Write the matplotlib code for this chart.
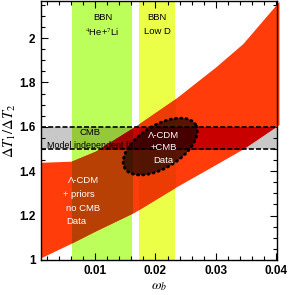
import numpy as np
import matplotlib
matplotlib.use("Agg")
import matplotlib.pyplot as plt
from matplotlib.patches import Rectangle, Polygon

plt.rcParams['font.family'] = ['Liberation Sans', 'DejaVu Sans']
plt.rcParams['mathtext.fontset'] = 'stix'

# red band: Lambda-CDM + priors, no CMB data (edges)
omega = [0.001, 0.006, 0.010, 0.0165, 0.0233, 0.030, 0.0345, 0.0405]
ratio_lo = [1.01, 1.075, 1.13, 1.215, 1.327, 1.43, 1.50, 1.61]
ratio_hi = [1.44, 1.445, 1.49, 1.60, 1.727, 1.87, 1.975, 2.165]

# BBN bands in omega_b
bbn_heli = [0.0061, 0.0161]
bbn_lowd = [0.0172, 0.0233]
# CMB model independent fit on the ratio
cmb_fit = [1.5, 1.6]

# Lambda-CDM + CMB data ellipse: centre, axis vectors (data units)
ell_center = [0.0208, 1.511]
ell_major = [0.00587, 0.0991]
ell_minor = [-0.00189, 0.0817]

c_green = '#bdff5a'
c_yellow = '#ecff48'
c_gray = '#c8c8c8'
c_red = '#ff3c0a'
c_red_green = '#b94005'
c_red_yellow = '#ec3c04'
c_red_gray = '#c80000'
c_red_gray_green = '#a00600'
c_red_gray_yellow = '#bb0000'
c_gray_green = '#96c83c'
c_gray_yellow = '#bac83a'

fig = plt.figure(figsize=(2.89, 2.95), dpi=100)
ax = fig.add_axes([0.142, 0.119, 0.817, 0.876])
ax.set_xlim(0.001, 0.0402)
ax.set_ylim(1.0, 2.165)

ax.axvspan(bbn_heli[0], bbn_heli[1], color=c_green, lw=0, zorder=1)
ax.axvspan(bbn_lowd[0], bbn_lowd[1], color=c_yellow, lw=0, zorder=1)
ax.axhspan(cmb_fit[0], cmb_fit[1], color=c_gray, lw=0, zorder=1)
ax.fill_between(bbn_heli, cmb_fit[0], cmb_fit[1], color=c_gray_green, lw=0, zorder=1.1)
ax.fill_between(bbn_lowd, cmb_fit[0], cmb_fit[1], color=c_gray_yellow, lw=0, zorder=1.1)


def red_band(color, xr=None, yr=None, z=2):
    p = ax.fill_between(omega, ratio_lo, ratio_hi, color=color, lw=0, zorder=z)
    if xr is None:
        xr = [0.0, 0.05]
    if yr is None:
        yr = [0.5, 2.5]
    clip = Rectangle((xr[0], yr[0]), xr[1] - xr[0], yr[1] - yr[0],
                     transform=ax.transData)
    p.set_clip_path(clip)


red_band(c_red)
red_band(c_red_green, xr=bbn_heli, z=2.1)
red_band(c_red_yellow, xr=bbn_lowd, z=2.1)
red_band(c_red_gray, yr=cmb_fit, z=2.2)
red_band(c_red_gray_green, xr=bbn_heli, yr=cmb_fit, z=2.3)
red_band(c_red_gray_yellow, xr=bbn_lowd, yr=cmb_fit, z=2.3)

for yv in cmb_fit:
    ax.axhline(yv, color='black', lw=1.2, ls=(0, (3, 1.3)), zorder=3)

t = np.linspace(0, 2 * np.pi, 200)
ex = ell_center[0] + np.cos(t) * ell_major[0] + np.sin(t) * ell_minor[0]
ey = ell_center[1] + np.cos(t) * ell_major[1] + np.sin(t) * ell_minor[1]
ax.add_patch(Polygon(np.column_stack([ex, ey]), closed=True, facecolor='black',
                     alpha=0.65, lw=0, zorder=4))
ax.plot(ex, ey, color='black', lw=2.0, ls=(0, (0.4, 1.5)),
        dash_capstyle='round', zorder=4.5)

fs = 6.8
ax.text(0.0112, 2.095, 'BBN', ha='center', va='center', fontsize=fs, zorder=5)
ax.text(0.0112, 2.027, r'$^4$He+$^7$Li', ha='center', va='center', fontsize=fs, zorder=5)
ax.text(0.0203, 2.095, 'BBN', ha='center', va='center', fontsize=fs, zorder=5)
ax.text(0.0203, 2.030, 'Low D', ha='center', va='center', fontsize=fs, zorder=5)
ax.text(0.0092, 1.573, 'CMB', ha='center', va='center', fontsize=fs, zorder=5)
ax.text(0.0091, 1.515, 'Model independent fit', ha='center', va='center',
        fontsize=6.4, zorder=5)
ax.text(0.0213, 1.563, 'Λ-CDM', ha='center', va='center', fontsize=fs,
        color='white', zorder=5)
ax.text(0.0213, 1.508, '+CMB', ha='center', va='center', fontsize=fs,
        color='white', zorder=5)
ax.text(0.0213, 1.450, 'Data', ha='center', va='center', fontsize=fs,
        color='white', zorder=5)
ax.text(0.0054, 1.360, 'Λ-CDM', ha='left', va='center', fontsize=fs,
        color='white', zorder=5)
ax.text(0.0046, 1.293, '+ priors', ha='left', va='center', fontsize=fs,
        color='white', zorder=5)
ax.text(0.0052, 1.233, 'no CMB', ha='left', va='center', fontsize=fs,
        color='white', zorder=5)
ax.text(0.0052, 1.171, 'Data', ha='left', va='center', fontsize=fs,
        color='white', zorder=5)

ax.set_xticks([0.01, 0.02, 0.03, 0.04])
ax.set_xticklabels(['0.01', '0.02', '0.03', '0.04'])
ax.set_xticks(np.arange(0.002, 0.0401, 0.002), minor=True)
ax.set_yticks([1.0, 1.2, 1.4, 1.6, 1.8, 2.0])
ax.set_yticklabels(['1', '1.2', '1.4', '1.6', '1.8', '2'])
ax.set_yticks(np.arange(1.0, 2.16, 0.05), minor=True)
ax.tick_params(which='both', direction='in', top=True, right=True,
               labelsize=8.5, width=0.8, pad=4)
ax.tick_params(which='major', length=5)
ax.tick_params(which='minor', length=3)
for lab in ax.get_xticklabels() + ax.get_yticklabels():
    lab.set_fontweight('bold')
for s in ax.spines.values():
    s.set_linewidth(1.0)
    s.set_zorder(6)

ax.set_xlabel(r'$\omega_b$', fontsize=10, labelpad=2)
ax.set_ylabel(r'$\Delta T_1/\Delta T_2$', fontsize=10.5, labelpad=1)

fig.savefig('out.png', dpi=100)
